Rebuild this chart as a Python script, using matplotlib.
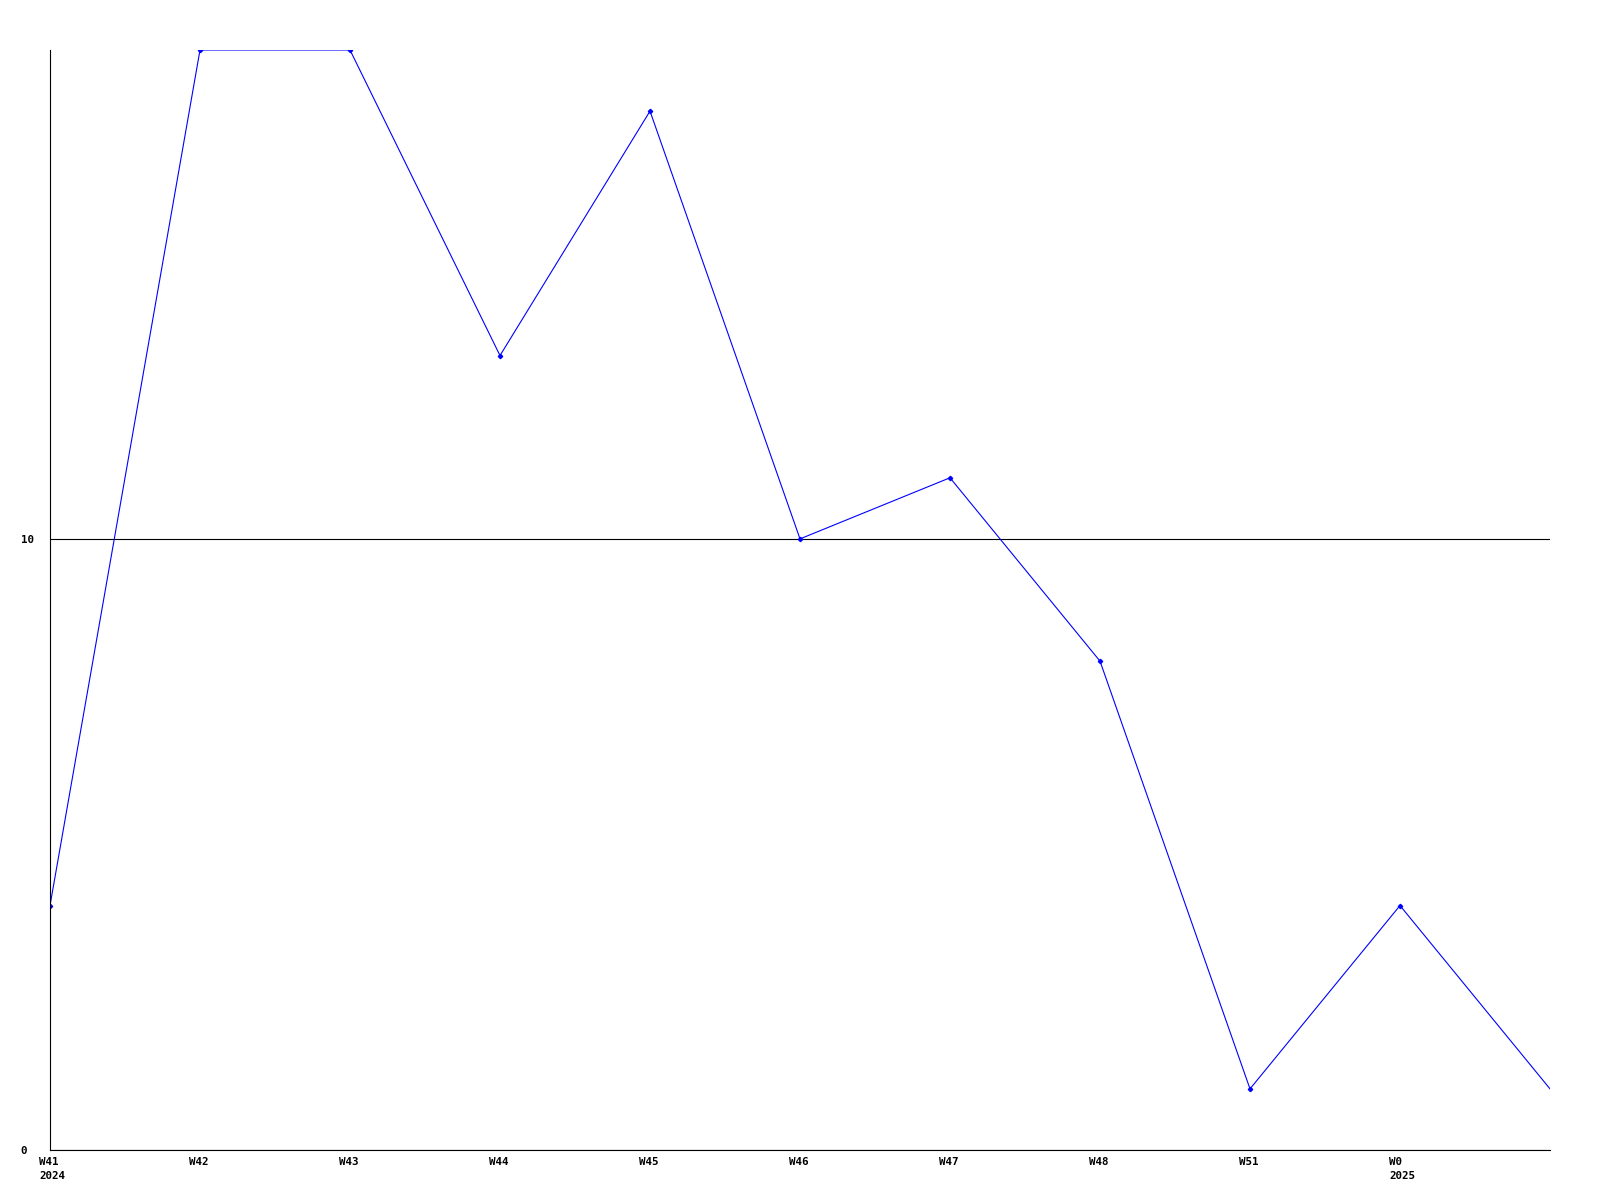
import matplotlib.pyplot as plt
import matplotlib.transforms as mtransforms

weeks = ["W41\n2024", "W42", "W43", "W44", "W45", "W46", "W47", "W48", "W51", "W0\n2025", ""]
values = [4, 18, 18, 13, 17, 10, 11, 8, 1, 4, 1]
y_ticks = [0, 10]

plt.rcParams["font.family"] = ["DejaVu Sans Mono"]

fig = plt.figure(figsize=(16, 12), dpi=100)
ax = fig.add_axes([50 / 1600, 50 / 1200, 1500 / 1600, 1100 / 1200])

x = list(range(len(values)))
ax.plot(x[:-1], values[:-1], color="#0000ff", linewidth=0.8, marker="D", markersize=2.2)
ax.plot(x[-2:], values[-2:], color="#0000ff", linewidth=0.8)

ax.set_xlim(0, len(values) - 1)
ax.set_ylim(0, 18)

ax.set_xticks(x[:-1])
ax.set_xticklabels(weeks[:-1], fontsize=7.8, fontweight="bold", ha="left",
                   linespacing=1.5)
ax.set_yticks(y_ticks)
ax.set_yticklabels([str(v) for v in y_ticks], fontsize=7.8, fontweight="bold",
                   ha="left")
ax.tick_params(axis="x", length=0, pad=5)
ax.tick_params(axis="y", length=0, pad=21)

shift = mtransforms.ScaledTranslation(-11 / 100, 0, fig.dpi_scale_trans)
for lab in ax.get_xticklabels():
    lab.set_transform(lab.get_transform() + shift)

ax.grid(axis="y", color="black", linewidth=0.8)
ax.grid(axis="x", visible=False)
for side in ["top", "right"]:
    ax.spines[side].set_visible(False)
for side in ["left", "bottom"]:
    ax.spines[side].set_linewidth(0.8)

fig.savefig("out.png", dpi=100)
